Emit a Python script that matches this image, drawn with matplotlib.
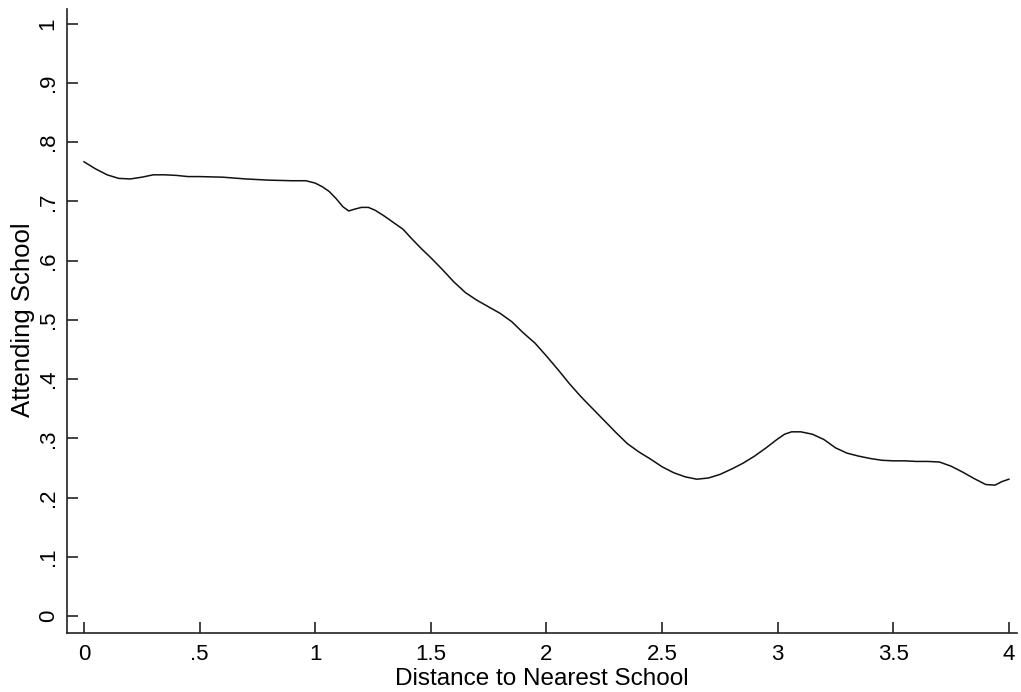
import matplotlib
matplotlib.use("Agg")
import matplotlib.pyplot as plt

plt.rcParams['font.family'] = ['Liberation Sans', 'DejaVu Sans']

distance = [0, 0.05, 0.1, 0.15, 0.2, 0.25, 0.3, 0.35, 0.4, 0.45, 0.5, 0.6, 0.7, 0.8, 0.9,
            0.96, 1.0, 1.03, 1.06, 1.09, 1.12, 1.145, 1.17, 1.2, 1.23, 1.26, 1.3, 1.34,
            1.38, 1.42, 1.46, 1.5, 1.55, 1.6, 1.65, 1.7, 1.75, 1.8, 1.85, 1.9, 1.95, 2.0,
            2.05, 2.1, 2.15, 2.2, 2.25, 2.3, 2.35, 2.4, 2.45, 2.5, 2.55, 2.6, 2.65, 2.7,
            2.75, 2.8, 2.85, 2.9, 2.95, 3.0, 3.03, 3.06, 3.1, 3.15, 3.2, 3.25, 3.3, 3.35,
            3.4, 3.45, 3.5, 3.55, 3.6, 3.65, 3.7, 3.75, 3.8, 3.85, 3.9, 3.94, 3.97, 4.0]
attending = [0.767, 0.755, 0.745, 0.739, 0.738, 0.741, 0.745, 0.745, 0.744, 0.742, 0.742,
             0.741, 0.738, 0.736, 0.735, 0.735, 0.731, 0.725, 0.717, 0.705, 0.691, 0.684,
             0.687, 0.690, 0.690, 0.685, 0.675, 0.664, 0.653, 0.636, 0.620, 0.605, 0.585,
             0.564, 0.546, 0.533, 0.522, 0.511, 0.497, 0.478, 0.461, 0.439, 0.416, 0.392,
             0.370, 0.350, 0.330, 0.310, 0.291, 0.277, 0.265, 0.252, 0.242, 0.235, 0.231,
             0.233, 0.239, 0.248, 0.258, 0.270, 0.284, 0.299, 0.307, 0.311, 0.311, 0.307,
             0.298, 0.284, 0.275, 0.270, 0.266, 0.263, 0.262, 0.262, 0.261, 0.261, 0.260,
             0.253, 0.243, 0.232, 0.222, 0.221, 0.227, 0.231]

xticks = [0, 0.5, 1, 1.5, 2, 2.5, 3, 3.5, 4]
xtick_labels = ['0', '.5', '1', '1.5', '2', '2.5', '3', '3.5', '4']
yticks = [0, 0.1, 0.2, 0.3, 0.4, 0.5, 0.6, 0.7, 0.8, 0.9, 1]
ytick_labels = ['0', '.1', '.2', '.3', '.4', '.5', '.6', '.7', '.8', '.9', '1']

fig = plt.figure(figsize=(10.21, 6.92), dpi=100)
ax_w, ax_h = (1017 - 67), (633 - 9)
ax = fig.add_axes([67/1021, 1 - 633/692, ax_w/1021, ax_h/692])

ax.plot(distance, attending, color='#111111', linewidth=1.1)

ax.set_xlim(-0.0735, 4.035)
ax.set_ylim(-0.0287, 1.025)

for s in ['top', 'right']:
    ax.spines[s].set_visible(False)
for s in ['left', 'bottom']:
    ax.spines[s].set_linewidth(1.2)
    ax.spines[s].set_color('#222222')

ax.set_xticks(xticks)
ax.set_xticklabels(xtick_labels, fontsize=16)
ax.set_yticks(yticks)
ax.set_yticklabels(ytick_labels, fontsize=16, rotation=90, va='center')

ax.tick_params(axis='x', direction='in', length=8, width=1.2, color='#222222', pad=8)
ax.tick_params(axis='y', direction='in', length=8, width=1.2, color='#222222', pad=6)

ax.set_xlabel('Distance to Nearest School', fontsize=17.5)
ax.xaxis.set_label_coords(0.5, (633 - 663) / ax_h)
ax.xaxis.label.set_va('baseline')
ax.xaxis.set_label_coords(0.5, (633 - 685) / ax_h)
ax.set_ylabel('Attending School', fontsize=18.5)
ax.yaxis.set_label_coords((35 - 67) / ax_w, (633 - 320) / ax_h)

fig.savefig('out.png', dpi=100, facecolor='white')
